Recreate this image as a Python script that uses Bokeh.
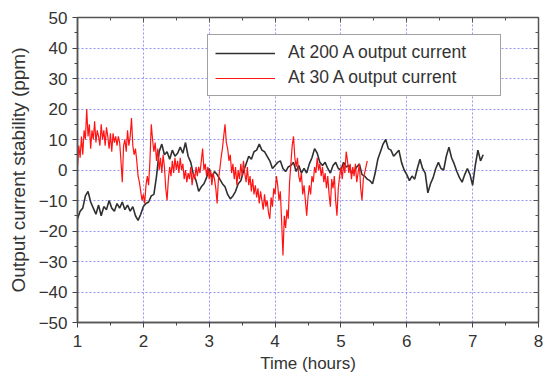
from bokeh.plotting import figure
from bokeh.models import Range1d, LinearAxis, SingleIntervalTicker, Legend, LegendItem
from bokeh.embed import file_html
from bokeh.resources import INLINE

# ---- data ----
x_ticks_interval = 1
y_ticks_interval = 10

black_t = [
    1.00, 1.04, 1.08, 1.12, 1.16, 1.20, 1.24, 1.28, 1.32, 1.36, 1.40, 1.44, 1.48, 1.52, 1.56, 1.60, 1.64, 1.68, 1.72, 1.76, 1.80, 1.84, 1.88, 1.92, 1.96,
    2.00, 2.04, 2.08, 2.12, 2.16, 2.20, 2.24, 2.28, 2.32, 2.36, 2.40, 2.44, 2.48, 2.52, 2.56, 2.60, 2.64, 2.68, 2.72, 2.76, 2.80, 2.84, 2.88, 2.92, 2.96,
    3.00, 3.04, 3.08, 3.12, 3.16, 3.20, 3.24, 3.28, 3.32, 3.36, 3.40, 3.44, 3.48, 3.52, 3.56, 3.60, 3.64, 3.68, 3.72, 3.76, 3.80, 3.84, 3.88, 3.92, 3.96,
    4.00, 4.04, 4.08, 4.12, 4.16, 4.20, 4.24, 4.28, 4.32, 4.36, 4.40, 4.44, 4.48, 4.52, 4.56, 4.60, 4.64, 4.68, 4.72, 4.76, 4.80, 4.84, 4.88, 4.92, 4.96,
    5.00, 5.04, 5.08, 5.12, 5.16, 5.20, 5.24, 5.28, 5.32, 5.36, 5.40, 5.44, 5.48, 5.52, 5.56, 5.60, 5.64, 5.68, 5.72, 5.76, 5.80, 5.84, 5.88, 5.92, 5.96,
    6.00, 6.04, 6.08, 6.12, 6.16, 6.20, 6.24, 6.28, 6.32, 6.36, 6.40, 6.44, 6.48, 6.52, 6.56, 6.60, 6.64, 6.68, 6.72, 6.76, 6.80, 6.84, 6.88, 6.92, 6.96,
    7.00, 7.04, 7.08, 7.12, 7.16,
]
black_ppm = [
    -16, -13.5, -12.5, -8.5, -7, -10.5, -12.5, -14.5, -11.5, -15, -12, -13, -10, -12.5, -13.5, -11, -12.5, -10.5, -13, -11.5, -13.5, -12, -15, -16.5, -14.5,
    -12, -11, -10.5, -8.5, -8, -2, 6, 8.5, 5, 6, 3.5, 6.5, 4.5, 5.5, 7.5, 5.5, 9, 4.5, 2.5, -1.5, -3.5, -7, -5.5, -4.5, -2.5,
    0.5, -2.5, -0.5, -1.5, -3, -4.5, -5.5, -8, -9.5, -8.5, -7, -4.5, -3.5, -0.5, 2, 4.5, 3.5, 6, 6.5, 8.5, 6.5, 6, 4.5, 3, 0.5,
    1.5, 2.5, 3, 0.5, -0.5, 1, 1.5, 2.5, -0.5, 1.5, -1, 0.5, -1, 2, 4, 7, 5.5, 2.5, 1.5, 2.5, 0.5, -1, 1.5, 2.5, 0.5,
    0, 2.5, 1, 1.5, -1, -0.5, 1, 2, -1.5, -2, -3, -3.5, -4.5, -1, 3.5, 6, 8.5, 10, 7, 6.5, 4.5, 5.5, 6.5, 2.5, 0,
    -1.5, -3.5, -2, -3, 0.5, 3.5, 0.5, -1, -7.5, -4.5, -2.5, 0.5, 2.5, 0.5, 0, 4.5, 7.5, 4, 2, -0.5, -2.5, -4, -1.5, 0.5, -1.5,
    -5, 1.5, 6.5, 3, 5,
]

red_t = [
    1.00, 1.02, 1.04, 1.06, 1.08, 1.10, 1.12, 1.14, 1.16, 1.18, 1.20, 1.22, 1.24, 1.26, 1.28, 1.30, 1.32, 1.34, 1.36, 1.38,
    1.40, 1.42, 1.44, 1.46, 1.48, 1.50, 1.52, 1.54, 1.56, 1.58, 1.60, 1.62, 1.64, 1.66, 1.68, 1.70, 1.72, 1.74, 1.76, 1.78,
    1.80, 1.82, 1.84, 1.86, 1.88, 1.90, 1.92, 1.94, 1.96, 1.98, 2.00, 2.02, 2.04, 2.06, 2.08, 2.10, 2.12, 2.14, 2.16, 2.18,
    2.20, 2.22, 2.24, 2.26, 2.28, 2.30, 2.32, 2.34, 2.36, 2.38, 2.40, 2.42, 2.44, 2.46, 2.48, 2.50, 2.52, 2.54, 2.56, 2.58,
    2.60, 2.62, 2.64, 2.66, 2.68, 2.70, 2.72, 2.74, 2.76, 2.78, 2.80, 2.82, 2.84, 2.86, 2.88, 2.90, 2.92, 2.94, 2.96, 2.98,
    3.00, 3.02, 3.04, 3.06, 3.08, 3.10, 3.12, 3.14, 3.16, 3.18, 3.20, 3.22, 3.24, 3.26, 3.28, 3.30, 3.32, 3.34, 3.36, 3.38,
    3.40, 3.42, 3.44, 3.46, 3.48, 3.50, 3.52, 3.54, 3.56, 3.58, 3.60, 3.62, 3.64, 3.66, 3.68, 3.70, 3.72, 3.74, 3.76, 3.78,
    3.80, 3.82, 3.84, 3.86, 3.88, 3.90, 3.92, 3.94, 3.96, 3.98, 4.00, 4.02, 4.04, 4.06, 4.08, 4.10, 4.12, 4.14, 4.16, 4.18,
    4.20, 4.22, 4.24, 4.26, 4.28, 4.30, 4.32, 4.34, 4.36, 4.38, 4.40, 4.42, 4.44, 4.46, 4.48, 4.50, 4.52, 4.54, 4.56, 4.58,
    4.60, 4.62, 4.64, 4.66, 4.68, 4.70, 4.72, 4.74, 4.76, 4.78, 4.80, 4.82, 4.84, 4.86, 4.88, 4.90, 4.92, 4.94, 4.96, 4.98,
    5.00, 5.02, 5.04, 5.06, 5.08, 5.10, 5.12, 5.14, 5.16, 5.18, 5.20, 5.22, 5.24, 5.26, 5.28, 5.30, 5.32, 5.34, 5.36, 5.38,
    5.40,
]
red_ppm = [
    1, 8, 4, 11, 5, 13, 10, 20, 11, 15, 7, 13, 10, 16, 9, 13, 11, 8, 15, 10,
    13, 8, 14, 11, 7, 12, 6, 12, 9, 11, 8, 11, 9, 3, -4, 8, 10, 6, 13, 8,
    11, 17, 8, 5, 7, 3, -2, -4, -7, -10, -8, -11, -5, -2, -5, 3, 15, 10, 6, 9,
    3, 7, 0, 4, -1, 5, 1, -6, -10, -3, 1, -2, 3, -1, 4, 0, 3, -1, 4, 0,
    2, -3, 0, -4, -1, -3, 1, -5, -1, -3, 1, -2, 1, -1, 3, 7, 0, 2, -2, 1,
    -3, 0, -5, -1, -3, -6, -11, -3, 0, 4, 7, 11, 15, 9, 7, 3, 5, -1, 2, -3,
    1, -5, 0, -3, 2, -2, 3, -1, -4, 1, -5, -2, -7, -3, -8, -5, -9, -6, -11, -7,
    -10, -13, -8, -12, -10, -14, -16, -9, -12, -6, -8, -2, -5, -10, -7, -17, -28, -15, -19, -13,
    -16, -4, 2, 8, 11, 4, 1, 4, -2, -4, -1, -8, -5, -10, -15, -9, -5, -8, -2, -4,
    1, -1, 4, 0, 2, -2, 1, -4, -1, -6, -2, -8, -12, -3, -6, -2, -10, -15, -6, -2,
    1, -3, 2, -1, 6, 3, -1, 2, -3, 1, -2, 2, -4, -1, 2, -6, -10, -3, -1, 1,
    3,
]

series_names = ["At 200 A output current", "At 30 A output current"]

FONT = "Liberation Sans"
TXT = "#333333"

p = figure(width=546, height=377,
           x_range=Range1d(1, 8), y_range=Range1d(-50, 50),
           output_backend="svg", toolbar_location=None,
           min_border_left=77, min_border_right=8, min_border_top=17, min_border_bottom=55,
           x_axis_label="Time (hours)", y_axis_label="Output current stability (ppm)")
p.background_fill_color = "white"
p.border_fill_color = "white"
p.outline_line_color = "#555555"
p.outline_line_width = 1.5

xt = SingleIntervalTicker(interval=x_ticks_interval, num_minor_ticks=2)
yt = SingleIntervalTicker(interval=y_ticks_interval, num_minor_ticks=2)

# bottom axis
xa = p.xaxis[0]
xa.ticker = xt
xa.major_label_text_font = FONT
xa.major_label_text_font_size = "17px"
xa.major_label_text_color = TXT
xa.major_label_standoff = 7
xa.major_tick_out = 5
xa.major_tick_in = 0
xa.minor_tick_out = 3
xa.minor_tick_in = 0
xa.axis_line_color = "#555555"
xa.axis_line_width = 1.5
xa.major_tick_line_color = "#444444"
xa.minor_tick_line_color = "#444444"
xa.axis_label_text_font = FONT
xa.axis_label_text_font_size = "17px"
xa.axis_label_text_font_style = "normal"
xa.axis_label_text_color = TXT
xa.axis_label_standoff = 4

# left axis
ya = p.yaxis[0]
ya.ticker = yt
ya.major_label_text_font = FONT
ya.major_label_text_font_size = "17px"
ya.major_label_text_color = TXT
ya.major_label_standoff = 5
ya.major_tick_out = 5
ya.major_tick_in = 0
ya.minor_tick_out = 3
ya.minor_tick_in = 0
ya.axis_line_color = "#555555"
ya.axis_line_width = 1.5
ya.major_tick_line_color = "#444444"
ya.minor_tick_line_color = "#444444"
ya.axis_label_text_font = FONT
ya.axis_label_text_font_size = "19px"
ya.axis_label_text_font_style = "normal"
ya.axis_label_text_color = TXT
ya.axis_label_standoff = 7

# top and right axes: inward ticks only, no labels
for ax_place, tk in (("above", xt), ("right", yt)):
    ax = LinearAxis(ticker=tk, major_label_text_color=None, major_label_standoff=0,
                    major_tick_in=5, major_tick_out=0, minor_tick_in=3, minor_tick_out=0,
                    axis_line_color=None, major_tick_line_color="#555555",
                    minor_tick_line_color="#555555")
    p.add_layout(ax, ax_place)

# grid
p.xgrid.ticker = xt
p.ygrid.ticker = yt
for g in (p.xgrid[0], p.ygrid[0]):
    g.grid_line_color = "#8a8af0"
    g.grid_line_dash = "2 2"
    g.grid_line_width = 1
    g.grid_line_alpha = 0.9

r1 = p.line(black_t, black_ppm, line_color="#303030", line_width=1.6)
r2 = p.line(red_t, red_ppm, line_color="#ff1414", line_width=1.2)

legend = Legend(items=[LegendItem(label=series_names[0], renderers=[r1]),
                       LegendItem(label=series_names[1], renderers=[r2])],
                location=(130, 226), margin=0, padding=7, spacing=4,
                glyph_width=60, glyph_height=20, label_standoff=13,
                label_width=205, label_height=20,
                label_text_font=FONT, label_text_font_size="17.5px", label_text_color="#333333",
                border_line_color="#444444", border_line_width=1.5,
                background_fill_color="white", background_fill_alpha=1)
p.add_layout(legend)

open("out.html", "w").write(file_html(p, INLINE))
